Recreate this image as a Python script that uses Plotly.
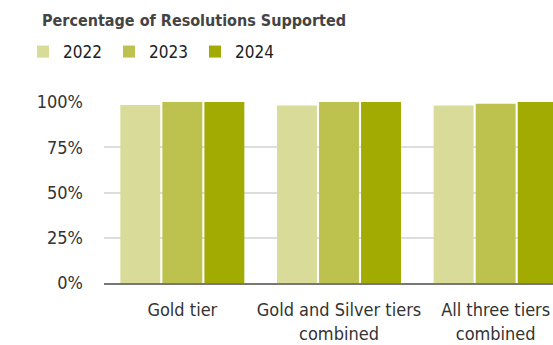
import plotly.graph_objects as go

categories = ["Gold tier", "Gold and Silver tiers<br>combined", "All three tiers<br>combined"]
years = ["2022", "2023", "2024"]
values_2022 = [98.3, 98.0, 98.0]
values_2023 = [100.0, 100.0, 99.0]
values_2024 = [100.0, 100.0, 100.0]
colors = ["#d9db98", "#bdc24f", "#a1ab02"]
series = [values_2022, values_2023, values_2024]

FONT = "Liberation Sans Narrow, DejaVu Sans Condensed, Roboto, sans-serif"

fig = go.Figure()
for name, vals, col in zip(years, series, colors):
    fig.add_trace(go.Bar(
        x=categories, y=vals, name=name,
        marker=dict(color=col, line=dict(width=0)),
    ))

fig.update_layout(
    width=553, height=345,
    margin=dict(l=104, r=0, t=102, b=62),
    paper_bgcolor="white", plot_bgcolor="white",
    barmode="group", bargap=0.195, bargroupgap=0.05,
    font=dict(family=FONT, size=18, color="#333333"),
    title=dict(text="<b>Percentage of Resolutions Supported</b>",
               x=42/553, xanchor="left", xref="container",
               y=1 - 20/345, yanchor="middle", pad=dict(l=0),
               font=dict(family=FONT, size=16, color="#444444")),
    legend=dict(orientation="h", x=23/553, xanchor="left", xref="container",
                y=1 - 52/345, yanchor="middle", yref="container",
                font=dict(family=FONT, size=17, color="#222222"),
                itemwidth=30, traceorder="normal",
                entrywidth=41, entrywidthmode="pixels"),
    showlegend=True,
)
fig.update_xaxes(range=[-0.5, 2.366], showgrid=False, showline=True,
                 linecolor="#777777", linewidth=1.5, ticks="",
                 ticklabelstandoff=10,
                 tickfont=dict(family=FONT, size=18, color="#333333"))
fig.update_yaxes(range=[0, 100], tickvals=[0, 25, 50, 75, 100],
                 ticktext=["0%", "25%", "50%", "75%", "100%"],
                 showgrid=True, gridcolor="#dddddd", gridwidth=1.5,
                 zeroline=False, showline=False, ticks="",
                 ticklabelstandoff=20,
                 tickfont=dict(family=FONT, size=18, color="#333333"))

fig.write_html("out.html")
